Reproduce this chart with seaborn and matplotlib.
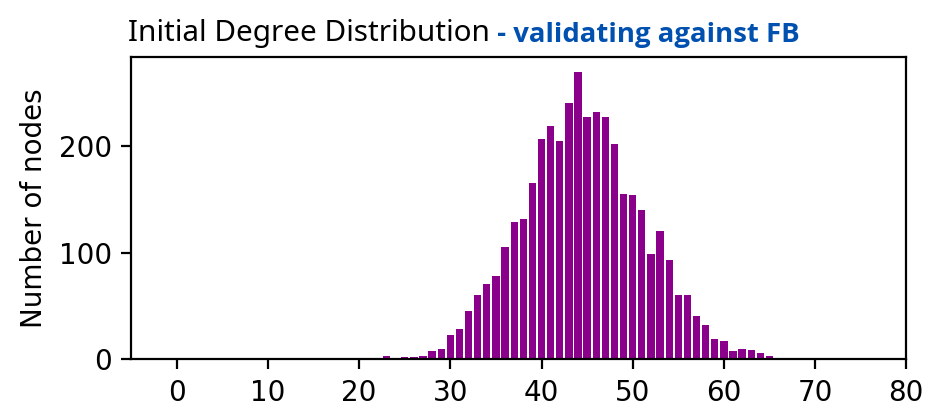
import matplotlib
matplotlib.use("Agg")
import matplotlib.pyplot as plt
import seaborn as sns
import pandas as pd

# Data
degrees = list(range(23, 66))
counts = [3, 0, 2, 2, 3, 8, 10, 23, 28, 45, 60, 71, 78, 105, 129, 132, 165,
          207, 219, 205, 241, 270, 227, 232, 227, 202, 155, 154, 140, 99, 120,
          93, 60, 60, 41, 32, 19, 17, 8, 10, 9, 6, 3]

title_main = "Initial Degree Distribution"
title_sub = " - validating against FB"
y_label = "Number of nodes"
x_ticks = [0, 10, 20, 30, 40, 50, 60, 70, 80]

df = pd.DataFrame({"degree": degrees, "count": counts})

fig, ax = plt.subplots(figsize=(4.72, 2.06), dpi=200)
fig.subplots_adjust(left=0.139, right=0.96, top=0.861, bottom=0.128)

sns.barplot(data=df, x="degree", y="count", native_scale=True,
            color="#8B008B", saturation=1, errorbar=None, ax=ax)

ax.set_xlim(-5, 80)
ax.set_xticks(x_ticks)
ax.set_xticklabels([str(t) for t in x_ticks])
ax.set_xlabel("")
ax.set_ylabel(y_label, fontsize=10)
ax.tick_params(labelsize=10)

t = ax.set_title(title_main, loc="left", fontsize=10.7, family="Noto Sans",
                 color="black", pad=6)
t.set_x(-0.004)
ax.annotate(title_sub, xy=(1, 0), xycoords=t, va="bottom", ha="left",
            xytext=(0, 0), textcoords="offset points",
            fontsize=9.9, family="Open Sans", fontweight="bold",
            color="#0050B0")

fig.savefig("out.png", dpi=200)
